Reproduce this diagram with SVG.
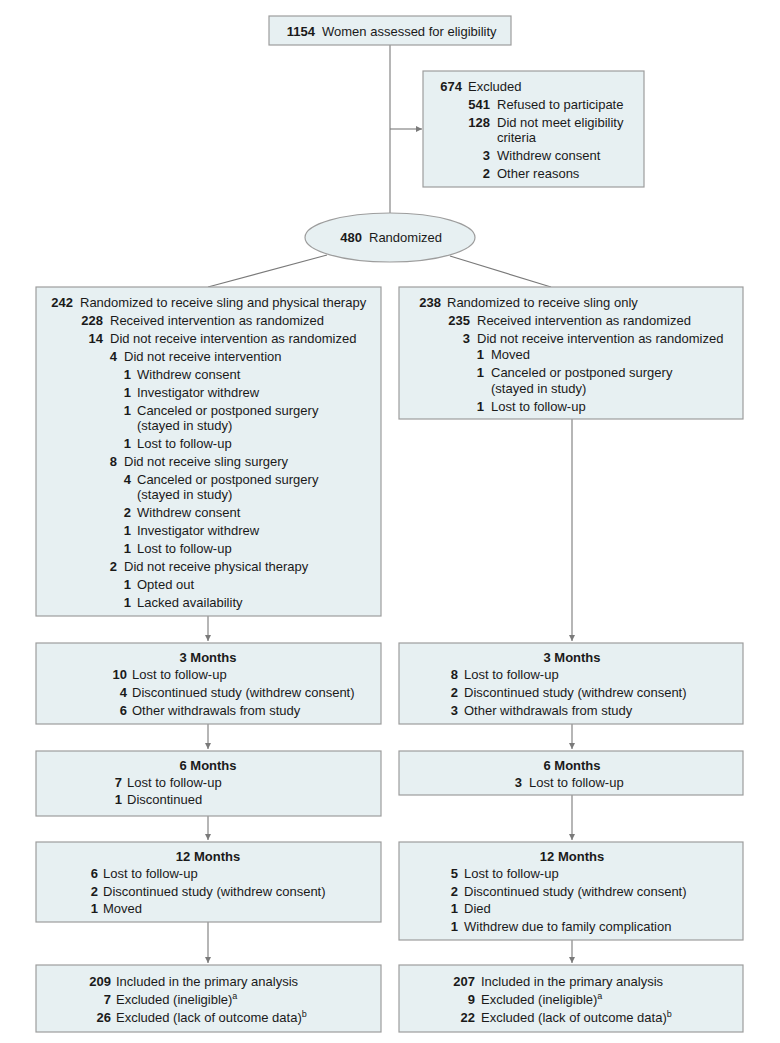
<svg xmlns="http://www.w3.org/2000/svg" width="780" height="1043" viewBox="0 0 780 1043">
<style>
.box{fill:#e7f0f2;stroke:#9d9d9d;stroke-width:1.2}
text{font-family:"Liberation Sans",Arial,sans-serif;font-size:13px;fill:#1a1a1a}
.n{font-weight:bold;text-anchor:end}
.h{font-weight:bold;text-anchor:middle}
.c{fill:none;stroke:#7a7a7a;stroke-width:1.1}
.sup{font-size:9px}
</style>
<defs>
<marker id="ah" viewBox="0 0 10 10" refX="10" refY="5" markerWidth="6" markerHeight="7" markerUnits="userSpaceOnUse" orient="auto">
<path d="M0,0 L10,5 L0,10 z" fill="#7a7a7a"/>
</marker>
</defs>
<rect width="780" height="1043" fill="#ffffff"/>
<g id="connectors">
<line class="c" x1="390" y1="45" x2="390" y2="213"/>
<line class="c" x1="390" y1="129" x2="422" y2="129" marker-end="url(#ah)"/>
<line class="c" x1="327" y1="255" x2="208" y2="287"/>
<line class="c" x1="450" y1="256" x2="551" y2="287"/>
<line class="c" x1="208" y1="616" x2="208" y2="641" marker-end="url(#ah)"/>
<line class="c" x1="572" y1="419" x2="572" y2="641" marker-end="url(#ah)"/>
<line class="c" x1="208" y1="724" x2="208" y2="749" marker-end="url(#ah)"/>
<line class="c" x1="572" y1="724" x2="572" y2="749" marker-end="url(#ah)"/>
<line class="c" x1="208" y1="816" x2="208" y2="840" marker-end="url(#ah)"/>
<line class="c" x1="572" y1="795" x2="572" y2="840" marker-end="url(#ah)"/>
<line class="c" x1="208" y1="922" x2="208" y2="963" marker-end="url(#ah)"/>
<line class="c" x1="572" y1="940" x2="572" y2="963" marker-end="url(#ah)"/>
</g>
<g id="assessed">
<rect class="box" x="269" y="16" width="242" height="29"/>
<text class="n" x="315" y="36">1154</text><text x="322" y="36">Women assessed for eligibility</text>
</g>
<g id="excluded">
<rect class="box" x="423" y="71" width="221" height="116"/>
<text class="n" x="462" y="91">674</text><text x="468" y="91">Excluded</text>
<text class="n" x="490" y="109">541</text><text x="497" y="109">Refused to participate</text>
<text class="n" x="490" y="127">128</text><text x="497" y="127">Did not meet eligibility</text>
<text x="497" y="142">criteria</text>
<text class="n" x="490" y="160">3</text><text x="497" y="160">Withdrew consent</text>
<text class="n" x="490" y="178">2</text><text x="497" y="178">Other reasons</text>
</g>
<g id="randomized">
<ellipse class="box" cx="390" cy="237.5" rx="85" ry="24.5"/>
<text class="n" x="362" y="242">480</text><text x="369" y="242">Randomized</text>
</g>
<g id="arm-sling-pt">
<rect class="box" x="36" y="287" width="345" height="329"/>
<text class="n" x="73" y="307">242</text><text x="80" y="307">Randomized to receive sling and physical therapy</text>
<text class="n" x="103" y="325">228</text><text x="110" y="325">Received intervention as randomized</text>
<text class="n" x="103" y="343">14</text><text x="110" y="343">Did not receive intervention as randomized</text>
<text class="n" x="117" y="361">4</text><text x="124" y="361">Did not receive intervention</text>
<text class="n" x="131" y="379">1</text><text x="137" y="379">Withdrew consent</text>
<text class="n" x="131" y="397">1</text><text x="137" y="397">Investigator withdrew</text>
<text class="n" x="131" y="415">1</text><text x="137" y="415">Canceled or postponed surgery</text>
<text x="137" y="430">(stayed in study)</text>
<text class="n" x="131" y="448">1</text><text x="137" y="448">Lost to follow-up</text>
<text class="n" x="117" y="466">8</text><text x="124" y="466">Did not receive sling surgery</text>
<text class="n" x="131" y="484">4</text><text x="137" y="484">Canceled or postponed surgery</text>
<text x="137" y="499">(stayed in study)</text>
<text class="n" x="131" y="517">2</text><text x="137" y="517">Withdrew consent</text>
<text class="n" x="131" y="535">1</text><text x="137" y="535">Investigator withdrew</text>
<text class="n" x="131" y="553">1</text><text x="137" y="553">Lost to follow-up</text>
<text class="n" x="117" y="571">2</text><text x="124" y="571">Did not receive physical therapy</text>
<text class="n" x="131" y="589">1</text><text x="137" y="589">Opted out</text>
<text class="n" x="131" y="607">1</text><text x="137" y="607">Lacked availability</text>
</g>
<g id="arm-sling-only">
<rect class="box" x="399" y="287" width="344" height="132"/>
<text class="n" x="441" y="307">238</text><text x="447" y="307">Randomized to receive sling only</text>
<text class="n" x="470" y="325">235</text><text x="477" y="325">Received intervention as randomized</text>
<text class="n" x="470" y="343">3</text><text x="477" y="343">Did not receive intervention as randomized</text>
<text class="n" x="484" y="359">1</text><text x="491" y="359">Moved</text>
<text class="n" x="484" y="377">1</text><text x="491" y="377">Canceled or postponed surgery</text>
<text x="491" y="393">(stayed in study)</text>
<text class="n" x="484" y="411">1</text><text x="491" y="411">Lost to follow-up</text>
</g>
<g id="left-3m">
<rect class="box" x="36" y="643" width="345" height="81"/>
<text class="h" x="208" y="662">3 Months</text>
<text class="n" x="127" y="679">10</text><text x="132" y="679">Lost to follow-up</text>
<text class="n" x="127" y="697">4</text><text x="132" y="697">Discontinued study (withdrew consent)</text>
<text class="n" x="127" y="715">6</text><text x="132" y="715">Other withdrawals from study</text>
</g>
<g id="right-3m">
<rect class="box" x="399" y="643" width="344" height="81"/>
<text class="h" x="572" y="662">3 Months</text>
<text class="n" x="458" y="679">8</text><text x="464" y="679">Lost to follow-up</text>
<text class="n" x="458" y="697">2</text><text x="464" y="697">Discontinued study (withdrew consent)</text>
<text class="n" x="458" y="715">3</text><text x="464" y="715">Other withdrawals from study</text>
</g>
<g id="left-6m">
<rect class="box" x="36" y="751" width="345" height="65"/>
<text class="h" x="208" y="770">6 Months</text>
<text class="n" x="122" y="787">7</text><text x="127" y="787">Lost to follow-up</text>
<text class="n" x="122" y="804">1</text><text x="127" y="804">Discontinued</text>
</g>
<g id="right-6m">
<rect class="box" x="399" y="751" width="344" height="44"/>
<text class="h" x="572" y="770">6 Months</text>
<text class="n" x="522" y="787">3</text><text x="529" y="787">Lost to follow-up</text>
</g>
<g id="left-12m">
<rect class="box" x="36" y="842" width="345" height="80"/>
<text class="h" x="208" y="861">12 Months</text>
<text class="n" x="98" y="878">6</text><text x="103" y="878">Lost to follow-up</text>
<text class="n" x="98" y="896">2</text><text x="103" y="896">Discontinued study (withdrew consent)</text>
<text class="n" x="98" y="913">1</text><text x="103" y="913">Moved</text>
</g>
<g id="right-12m">
<rect class="box" x="399" y="842" width="344" height="98"/>
<text class="h" x="572" y="861">12 Months</text>
<text class="n" x="458" y="878">5</text><text x="464" y="878">Lost to follow-up</text>
<text class="n" x="458" y="896">2</text><text x="464" y="896">Discontinued study (withdrew consent)</text>
<text class="n" x="458" y="913">1</text><text x="464" y="913">Died</text>
<text class="n" x="458" y="931">1</text><text x="464" y="931">Withdrew due to family complication</text>
</g>
<g id="left-analysis">
<rect class="box" x="36" y="965" width="345" height="67"/>
<text class="n" x="111" y="986">209</text><text x="116" y="986">Included in the primary analysis</text>
<text class="n" x="111" y="1004">7</text><text x="116" y="1004">Excluded (ineligible)<tspan class="sup" dy="-5">a</tspan></text>
<text class="n" x="111" y="1022">26</text><text x="116" y="1022">Excluded (lack of outcome data)<tspan class="sup" dy="-5">b</tspan></text>
</g>
<g id="right-analysis">
<rect class="box" x="399" y="965" width="344" height="67"/>
<text class="n" x="475" y="986">207</text><text x="481" y="986">Included in the primary analysis</text>
<text class="n" x="475" y="1004">9</text><text x="481" y="1004">Excluded (ineligible)<tspan class="sup" dy="-5">a</tspan></text>
<text class="n" x="475" y="1022">22</text><text x="481" y="1022">Excluded (lack of outcome data)<tspan class="sup" dy="-5">b</tspan></text>
</g>
</svg>
